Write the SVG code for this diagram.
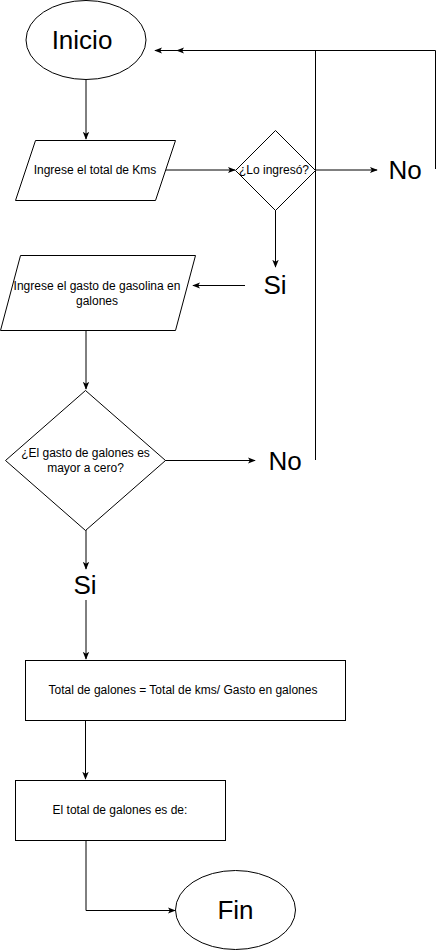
<svg xmlns="http://www.w3.org/2000/svg" width="444" height="951" viewBox="0 0 444 951">
<defs>
<marker id="ah" viewBox="0 0 10 10" refX="9" refY="5" markerWidth="8" markerHeight="8" markerUnits="userSpaceOnUse" orient="auto">
<path d="M0,1 L10,5 L0,9 L2.5,5 Z" fill="#000"/>
</marker>
<style>
.s{fill:#fff;stroke:#000;stroke-width:1}
.c{fill:none;stroke:#000;stroke-width:1}
.t{font-family:"Liberation Sans",Arial,sans-serif;font-size:12px;fill:#000;text-anchor:middle}
.b{font-family:"Liberation Sans",Arial,sans-serif;font-size:26px;fill:#000;text-anchor:middle}
</style>
</defs>
<rect width="444" height="951" fill="#fff"/>
<g id="connectors">
<path class="c" d="M86,80 V139" marker-end="url(#ah)"/>
<path class="c" d="M166,170 H235" marker-end="url(#ah)"/>
<path class="c" d="M315,170 H377" marker-end="url(#ah)"/>
<path class="c" d="M435.5,169 V50.5 H155" marker-end="url(#ah)"/>
<path class="c" d="M315.5,460 V50.5 H177" marker-end="url(#ah)"/>
<path class="c" d="M275.5,210 V267" marker-end="url(#ah)"/>
<path class="c" d="M245,285.5 H193" marker-end="url(#ah)"/>
<path class="c" d="M86,330 V389" marker-end="url(#ah)"/>
<path class="c" d="M165,460.5 H255" marker-end="url(#ah)"/>
<path class="c" d="M86,530 V569" marker-end="url(#ah)"/>
<path class="c" d="M86,600 V659" marker-end="url(#ah)"/>
<path class="c" d="M85.5,720 V779" marker-end="url(#ah)"/>
<path class="c" d="M86,840 V910.5 H175" marker-end="url(#ah)"/>
</g>
<g id="inicio">
<ellipse class="s" cx="86" cy="40" rx="60" ry="39.5"/>
<text class="b" x="82" y="49">Inicio</text>
</g>
<g id="ingrese-kms">
<polygon class="s" points="35.5,140.5 175.5,140.5 155.5,200.5 15.5,200.5"/>
<text class="t" x="95" y="174">Ingrese el total de Kms</text>
</g>
<g id="lo-ingreso">
<polygon class="s" points="275.5,130.5 315.5,170.5 275.5,210.5 235.5,170.5"/>
<text class="t" x="274" y="174">¿Lo ingresó?</text>
</g>
<g id="no1">
<text class="b" x="405" y="179">No</text>
</g>
<g id="si1">
<text class="b" x="275" y="294">Si</text>
</g>
<g id="ingrese-gasto">
<polygon class="s" points="20.5,255.5 195.5,255.5 175.5,330.5 0.5,330.5"/>
<text class="t" x="97" y="290">Ingrese el gasto de gasolina en</text>
<text class="t" x="97" y="305">galones</text>
</g>
<g id="gasto-mayor">
<polygon class="s" points="85.5,390.5 165.5,460.5 85.5,530.5 5.5,460.5"/>
<text class="t" x="85.5" y="457">¿El gasto de galones es</text>
<text class="t" x="85.5" y="472">mayor a cero?</text>
</g>
<g id="no2">
<text class="b" x="285" y="470">No</text>
</g>
<g id="si2">
<text class="b" x="85" y="594">Si</text>
</g>
<g id="calculo">
<rect class="s" x="25.5" y="660.5" width="320" height="60"/>
<text class="t" x="183" y="694">Total de galones = Total de kms/ Gasto en galones</text>
</g>
<g id="resultado">
<rect class="s" x="15.5" y="780.5" width="210" height="60"/>
<text class="t" x="120" y="814">El total de galones es de:</text>
</g>
<g id="fin">
<ellipse class="s" cx="235.5" cy="910" rx="60" ry="39.5"/>
<text class="b" x="235.5" y="919">Fin</text>
</g>
</svg>
